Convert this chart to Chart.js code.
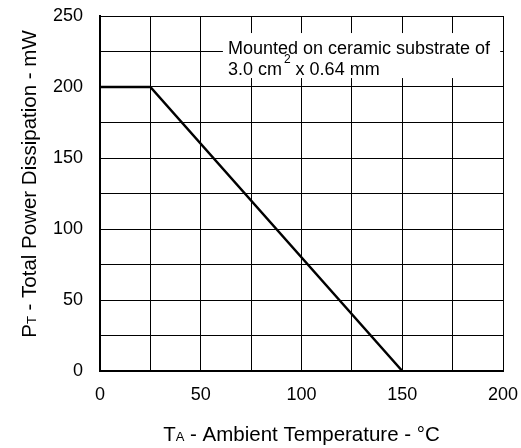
<!DOCTYPE html>
<html>
<head>
<meta charset="utf-8">
<script src="https://cdn.jsdelivr.net/npm/chart.js@4.4.1/dist/chart.umd.min.js"></script>
<style>
  html, body { margin: 0; padding: 0; background: #fff; }
  #wrap { width: 521px; height: 448px; }
</style>
</head>
<body>
<div id="wrap"><canvas id="c" width="521" height="448"></canvas></div>
<script>
// ====== DATA ======
const tempC = [0, 25, 150];          // ambient temperature, °C
const powerMW = [200, 200, 0];       // total power dissipation, mW
const xTicks = [0, 50, 100, 150, 200];
const yTicks = [0, 50, 100, 150, 200, 250];
// ==================

const FONT = "'Liberation Sans', Arial, sans-serif";

// Axis titles with small subscript letters + the note box
const textPlugin = {
  id: "texts",
  afterDraw(chart) {
    const ctx = chart.ctx;
    const area = chart.chartArea;
    const xs = chart.scales.x, ys = chart.scales.y;
    ctx.save();
    ctx.textBaseline = "alphabetic";

    // note box (white background hides grid)
    const bx0 = xs.getPixelForValue(61), bx1 = xs.getPixelForValue(198.6);
    const by0 = ys.getPixelForValue(238), by1 = ys.getPixelForValue(206.3);
    ctx.fillStyle = "#fff";
    ctx.fillRect(bx0, by0, bx1 - bx0, by1 - by0);
    ctx.fillStyle = "#000";
    ctx.font = "18px " + FONT;
    ctx.textAlign = "left";
    const tx = bx0 + 5;
    ctx.fillText("Mounted on ceramic substrate of", tx, by0 + 20.5);
    const w = ctx.measureText("3.0 cm").width;
    ctx.fillText("3.0 cm", tx, by0 + 42);
    ctx.font = "12px " + FONT;
    ctx.fillText("2", tx + w + 2, by0 + 30);
    const w2 = ctx.measureText("2").width;
    ctx.font = "18px " + FONT;
    ctx.fillText(" x 0.64 mm", tx + w + w2 + 2, by0 + 42);

    // x title
    const xParts = [["T", 20.5], ["A", 13], [" - Ambient Temperature - °C", 20.5]];
    drawParts(ctx, xParts, (area.left + area.right) / 2, 441);

    // y title (rotated)
    ctx.translate(36, 184);
    ctx.rotate(-Math.PI / 2);
    const yParts = [["P", 20.5], ["T", 13], [" - Total Power Dissipation - mW", 20.5]];
    drawParts(ctx, yParts, 0, 0);
    ctx.restore();
  }
};

function drawParts(ctx, parts, cx, baseline) {
  let total = 0;
  parts.forEach(([t, s]) => { ctx.font = s + "px " + FONT; total += ctx.measureText(t).width; });
  let x = cx - total / 2;
  ctx.textAlign = "left";
  parts.forEach(([t, s]) => {
    ctx.font = s + "px " + FONT;
    ctx.fillText(t, x, baseline);
    x += ctx.measureText(t).width;
  });
}

new Chart(document.getElementById("c"), {
  type: "scatter",
  data: {
    datasets: [{
      data: tempC.map((t, i) => ({ x: t, y: powerMW[i] })),
      showLine: true,
      borderColor: "#000",
      borderWidth: 2.5,
      pointRadius: 0,
      tension: 0,
      clip: false
    }]
  },
  options: {
    responsive: false,
    animation: false,
    devicePixelRatio: 1,
    layout: { padding: { top: 16, right: 18, left: 0, bottom: 0 } },
    plugins: { legend: { display: false }, tooltip: { enabled: false } },
    scales: {
      x: {
        type: "linear",
        min: 0, max: 200,
        afterFit(s) { s.height = 77; s.paddingLeft = 0; s.paddingRight = 0; },
        ticks: {
          stepSize: 25,
          autoSkip: false,
          maxRotation: 0,
          padding: 13,
          color: "#000",
          font: { family: FONT, size: 18 },
          callback: (v) => xTicks.includes(v) ? String(v) : ""
        },
        grid: { color: "#000", lineWidth: 1, drawTicks: false, tickLength: 0 },
        border: { color: "#000", width: 2 }
      },
      y: {
        min: 0, max: 250,
        afterFit(s) { s.width = 100; s.paddingTop = 0; s.paddingBottom = 0; },
        ticks: {
          stepSize: 25,
          autoSkip: false,
          padding: 17,
          color: "#000",
          font: { family: FONT, size: 18 },
          callback: (v) => yTicks.includes(v) ? String(v) : ""
        },
        grid: { color: "#000", lineWidth: 1, drawTicks: false, tickLength: 0 },
        border: { color: "#000", width: 2 }
      }
    }
  },
  plugins: [textPlugin]
});
</script>
</body>
</html>
